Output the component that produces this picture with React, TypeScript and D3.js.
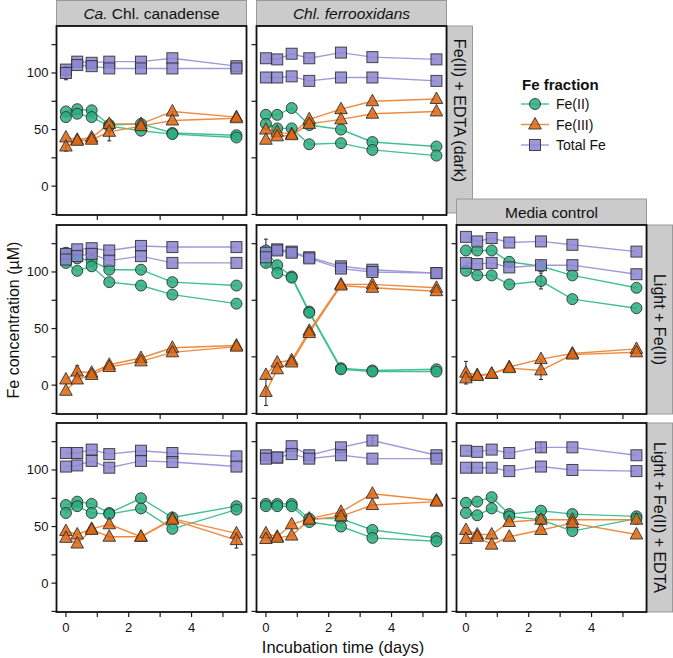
import React from "react";
import * as d3 from "d3";

// ---------- data ----------
const days = [0, 0.36, 0.82, 1.38, 2.39, 3.39, 5.43];
const fractions = ["Fe(II)", "Fe(III)", "Total Fe"];
const columnLabels = ["Ca. Chl. canadense", "Chl. ferrooxidans", "Media control"];
const rowLabels = ["Fe(II) + EDTA (dark)", "Light + Fe(II)", "Light + Fe(II) + EDTA"];
const yMajorTicks = [0, 50, 100];
const yMinorTicks = [-25, 25, 75, 125];
const xLabelTicks = [0, 2, 4];
const xMinorTicks = [1, 3, 5];

// row 0: Fe(II) + EDTA (dark)
const canDarkFe2 = [[66, 68, 67, 54, 55, 47, 45], [61, 64, 61, 53, 49, 46, 43]];
const canDarkFe3 = [[43, 41, 43, 55, 55, 66, 61], [35, 40, 41, 48, 53, 58, 60]];
const canDarkTot = [[103, 110, 109, 110, 110, 113, 106], [100, 107, 106, 104, 104, 104, 104]];
const ferDarkFe2 = [[63, 63, 69, 54, 50, 39, 35], [55, 51, 51, 37, 38, 32, 27]];
const ferDarkFe3 = [[50, 48, 46, 59, 68, 75, 77], [41, 44, 45, 55, 59, 64, 66]];
const ferDarkTot = [[113, 112, 117, 113, 118, 114, 112], [96, 96, 97, 93, 96, 96, 93]];
// row 1: Light + Fe(II)
const canLightFe2 = [[117, 112, 110, 102, 102, 91, 88], [108, 101, 105, 91, 88, 80, 72]];
const canLightFe3 = [[5, 12, 11, 18, 24, 33, 35], [-5, 5, 9, 16, 21, 29, 34]];
const canLightTot = [[116, 120, 121, 119, 123, 122, 122], [111, 114, 116, 110, 114, 108, 108]];
const ferLightFe2 = [[119, 106, 96, 65, 15, 13, 14], [108, 99, 95, 64, 14, 12, 12]];
const ferLightFe3 = [[9, 20, 22, 48, 89, 89, 86], [-6, 14, 20, 46, 88, 86, 83]];
const ferLightTot = [[117, 120, 118, 113, 105, 102, 99], [113, 119, 117, 112, 103, 100, 99]];
const medLightFe2 = [[119, 119, 119, 109, 105, 97, 86], [101, 97, 97, 89, 92, 76, 68]];
const medLightFe3 = [[11, 9, 10, 16, 23, 28, 32], [6, 8, 10, 15, 13, 27, 29]];
const medLightTot = [[131, 127, 130, 126, 127, 124, 118], [108, 107, 108, 104, 106, 106, 98]];
// row 2: Light + Fe(II) + EDTA
const canEdtaFe2 = [[69, 72, 70, 62, 75, 58, 68], [62, 68, 62, 61, 66, 48, 65]];
const canEdtaFe3 = [[46, 43, 48, 52, 41, 57, 44], [40, 35, 47, 41, 41, 56, 38]];
const canEdtaTot = [[115, 115, 118, 114, 117, 115, 112], [103, 104, 108, 102, 108, 107, 103]];
const ferEdtaFe2 = [[70, 70, 70, 57, 57, 47, 40], [68, 68, 68, 54, 50, 40, 37]];
const ferEdtaFe3 = [[44, 41, 52, 57, 63, 79, 73], [39, 40, 42, 56, 59, 69, 72]];
const ferEdtaTot = [[113, 111, 121, 113, 120, 126, 113], [110, 111, 114, 110, 113, 110, 110]];
const medEdtaFe2 = [[71, 72, 76, 61, 64, 61, 59], [62, 60, 66, 59, 56, 46, 57]];
const medEdtaFe3 = [[47, 43, 43, 54, 56, 56, 56], [39, 41, 34, 41, 47, 53, 43]];
const medEdtaTot = [[117, 116, 118, 115, 120, 120, 113], [102, 102, 102, 99, 103, 100, 99]];

const panels = [
  { row: 0, col: 0, series: [canDarkFe2, canDarkFe3, canDarkTot] },
  { row: 0, col: 1, series: [ferDarkFe2, ferDarkFe3, ferDarkTot] },
  { row: 1, col: 0, series: [canLightFe2, canLightFe3, canLightTot] },
  { row: 1, col: 1, series: [ferLightFe2, ferLightFe3, ferLightTot] },
  { row: 1, col: 2, series: [medLightFe2, medLightFe3, medLightTot] },
  { row: 2, col: 0, series: [canEdtaFe2, canEdtaFe3, canEdtaTot] },
  { row: 2, col: 1, series: [ferEdtaFe2, ferEdtaFe3, ferEdtaTot] },
  { row: 2, col: 2, series: [medEdtaFe2, medEdtaFe3, medEdtaTot] },
];

// notable error bars: [row, col, fraction, replicate, time index, +/- error]
const errorBars = [
  [0, 0, 2, 1, 0, 6],
  [0, 0, 1, 1, 3, 8],
  [0, 0, 0, 0, 3, 5],
  [0, 0, 1, 1, 0, 4],
  [1, 0, 1, 0, 1, 5],
  [1, 1, 1, 1, 0, 12],
  [1, 1, 2, 0, 0, 12],
  [1, 2, 1, 0, 0, 10],
  [1, 2, 1, 1, 4, 8],
  [1, 2, 0, 1, 4, 7],
  [2, 0, 1, 1, 6, 7],
  [2, 2, 2, 0, 4, 4],
  [2, 1, 2, 0, 5, 3],
];

// ---------- styling ----------
const lineColors = ["#41c092", "#f08a3e", "#9f9ad9"];
const fillColors = ["#2aad7e", "#dd6510", "#8b86d0"];
const FONT = "'Liberation Sans', Arial, Helvetica, sans-serif";

const colX = [56.5, 256.5, 456.5];
const rowY = [26, 225, 423];
const PW = 190;
const PH = 189;

function Marker({ kind, cx, cy }: { kind: number; cx: number; cy: number }) {
  const common = { fill: fillColors[kind], fillOpacity: 0.85, stroke: "#2a2a2a", strokeWidth: 1, strokeOpacity: 0.85 };
  if (kind === 0) return <circle cx={cx} cy={cy} r={5.5} {...common} />;
  if (kind === 1)
    return <path d={`M${cx},${cy - 7}L${cx + 6.3},${cy + 4.5}L${cx - 6.3},${cy + 4.5}Z`} {...common} />;
  return <rect x={cx - 5.5} y={cy - 5.5} width={11} height={11} {...common} />;
}

export default function App() {
  const x = d3.scaleLinear().domain([-0.3, 5.75]).range([0, PW]);
  const y = d3.scaleLinear().domain([-25.5, 141.5]).range([PH, 0]);
  const line = d3
    .line<number>()
    .x((_, i) => x(days[i]))
    .y((v) => y(v));

  const stripFill = "#cbcbcb";
  const stripStroke = "#999";

  return (
    <svg
      width={673}
      height={658}
      style={{ position: "absolute", left: 0, top: 0, background: "#fff" }}
      fontFamily={FONT}
    >
      {/* top strips */}
      {[0, 1].map((c) => (
        <g key={"ts" + c}>
          <rect x={colX[c]} y={0.5} width={PW} height={25} fill={stripFill} stroke={stripStroke} />
          <text x={colX[c] + PW / 2} y={18.5} textAnchor="middle" fontSize={15.5} fill="#111">
            {c === 0 ? (
              <>
                <tspan fontStyle="italic">Ca.</tspan> Chl. canadense
              </>
            ) : (
              <tspan fontStyle="italic">{columnLabels[1]}</tspan>
            )}
          </text>
        </g>
      ))}
      {/* right strip of top row + corner piece */}
      <polygon
        points="447,26 472.5,26 472.5,199 458,213 447,213"
        fill={stripFill}
        stroke={stripStroke}
      />
      <rect x={456.5} y={199} width={PW} height={25.5} fill={stripFill} stroke={stripStroke} />
      <polygon points="458,213 472.5,199.5 472.5,224 458,224" fill={stripFill} />
      <text x={colX[2] + PW / 2} y={217.5} textAnchor="middle" fontSize={15.5} fill="#111">
        {columnLabels[2]}
      </text>
      <text
        transform={`translate(454,${rowY[0] + PH / 2 - 10}) rotate(90)`}
        textAnchor="middle"
        fontSize={16}
        fill="#111"
      >
        {rowLabels[0]}
      </text>
      {/* right strips rows 1,2 */}
      {[1, 2].map((r) => (
        <g key={"rs" + r}>
          <rect x={647} y={rowY[r]} width={25.5} height={PH} fill={stripFill} stroke={stripStroke} />
          <text
            transform={`translate(654,${rowY[r] + PH / 2}) rotate(90)`}
            textAnchor="middle"
            fontSize={16}
            fill="#111"
          >
            {rowLabels[r]}
          </text>
        </g>
      ))}

      {panels.map((p, pi) => {
        const ox = colX[p.col];
        const oy = rowY[p.row];
        const yTicks = p.col === 0 ? [...yMajorTicks, ...yMinorTicks] : yMinorTicks;
        const xTicks = p.row === 2 ? [...xLabelTicks, ...xMinorTicks] : xMinorTicks;
        const errs = errorBars.filter((e) => e[0] === p.row && e[1] === p.col);
        return (
          <g key={pi} transform={`translate(${ox},${oy})`}>
            <rect x={0} y={0} width={PW} height={PH} fill="#fff" />
            {/* lines */}
            {p.series.map((reps, k) =>
              reps.map((vals, r) => (
                <path key={`l${k}${r}`} d={line(vals) || ""} fill="none" stroke={lineColors[k]} strokeWidth={1.4} />
              ))
            )}
            {/* error bars */}
            {errs.map((e, i) => {
              const v = p.series[e[2]][e[3]][e[4]];
              const cx = x(days[e[4]]);
              return (
                <g key={"e" + i} stroke="#222" strokeWidth={1}>
                  <line x1={cx} x2={cx} y1={y(v - e[5])} y2={y(v + e[5])} />
                  <line x1={cx - 2} x2={cx + 2} y1={y(v - e[5])} y2={y(v - e[5])} />
                  <line x1={cx - 2} x2={cx + 2} y1={y(v + e[5])} y2={y(v + e[5])} />
                </g>
              );
            })}
            {/* markers */}
            {p.series.map((reps, k) =>
              reps.map((vals, r) =>
                vals.map((v, i) => <Marker key={`m${k}${r}${i}`} kind={k} cx={x(days[i])} cy={y(v)} />)
              )
            )}
            <rect x={0} y={0} width={PW} height={PH} fill="none" stroke="#111" strokeWidth={1.8} />
            {/* y ticks */}
            {yTicks.map((t) => (
              <line key={"yt" + t} x1={-5} x2={0} y1={y(t)} y2={y(t)} stroke="#1a1a1a" strokeWidth={1.2} />
            ))}
            {p.col === 0 &&
              yMajorTicks.map((t) => (
                <text key={"yl" + t} x={-8} y={y(t) + 4.5} textAnchor="end" fontSize={13} fill="#111">
                  {t}
                </text>
              ))}
            {/* x ticks */}
            {xTicks.map((t) => (
              <line key={"xt" + t} x1={x(t)} x2={x(t)} y1={PH} y2={PH + 5} stroke="#1a1a1a" strokeWidth={1.2} />
            ))}
            {p.row === 2 &&
              xLabelTicks.map((t) => (
                <text key={"xl" + t} x={x(t)} y={PH + 20} textAnchor="middle" fontSize={13} fill="#111">
                  {t}
                </text>
              ))}
          </g>
        );
      })}

      {/* axis titles */}
      <text x={343} y={653} textAnchor="middle" fontSize={16.5} fill="#111">
        Incubation time (days)
      </text>
      <text transform="translate(19,320) rotate(-90)" textAnchor="middle" fontSize={16} fill="#111">
        Fe concentration (µM)
      </text>

      {/* legend */}
      <text x={522} y={90} fontSize={15} fontWeight="bold" fill="#111">
        Fe fraction
      </text>
      {fractions.map((f, k) => {
        const ly = 104 + k * 20.5;
        return (
          <g key={f}>
            <line x1={521} x2={549} y1={ly} y2={ly} stroke={lineColors[k]} strokeWidth={1.4} />
            <Marker kind={k} cx={535} cy={ly} />
            <text x={556} y={ly + 5} fontSize={14} fill="#111">
              {f}
            </text>
          </g>
        );
      })}
    </svg>
  );
}
